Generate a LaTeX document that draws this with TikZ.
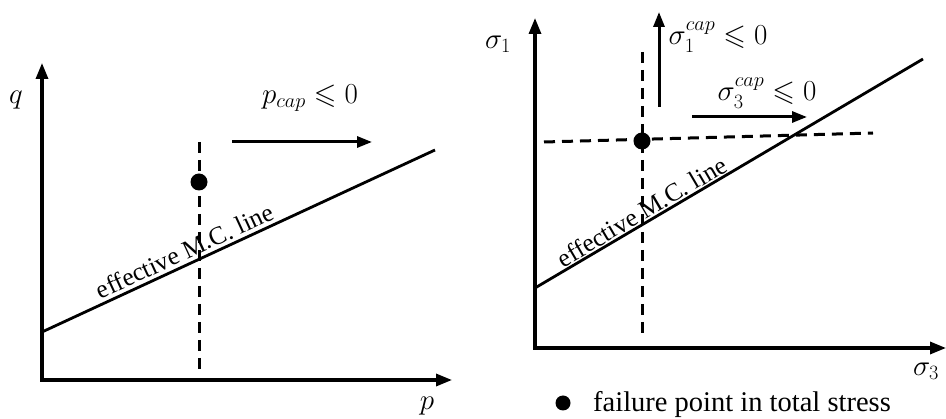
\RequirePackage{fix-cm}
\documentclass[tikz,border=0pt]{standalone}
\usepackage{amsmath}
\usepackage{amssymb}
\usepackage[no-math]{fontspec}
\setmainfont{Liberation Serif}
\usetikzlibrary{arrows.meta, positioning}

\begin{document}
\begin{tikzpicture}[x=1pt, y=-1pt,
    axis/.style={line width=3.2pt, {Triangle[length=16pt,width=12pt]}-{Triangle[length=16pt,width=12pt]}},
    mcline/.style={line width=2.8pt},
    guide/.style={line width=3pt, dash pattern=on 11pt off 7pt},
    push/.style={line width=3pt, -{Triangle[length=15pt,width=11pt]}},
    lbl/.style={font=\fontsize{29}{33}\selectfont},
    txt/.style={font=\fontsize{25.5}{30}\selectfont},
    fpoint/.style={circle, fill, inner sep=0pt, minimum size=17pt}]
    \useasboundingbox (0,0) rectangle (946,419);

    % Left panel: q-p plane
    \coordinate (qtop) at (42,63);
    \coordinate (o1) at (42,380);
    \coordinate (pend) at (452,380);
    \draw[axis] (qtop) -- (o1) -- (pend);
    \node[lbl] (qlab) at (16,100) {$q$};
    \node[lbl] (plab) at (427,406) {$p$};

    % Effective M.C. line (left)
    \coordinate (mcla) at (42,332);
    \coordinate (mclb) at (435,150);
    \draw[mcline] (mcla) -- (mclb) node[txt, pos=0.377, sloped, above, inner sep=3pt] (mcltext) {effective M.C. line};

    % Failure point and cap (left)
    \coordinate (dltop) at (199,142);
    \coordinate (dlbot) at (199,372);
    \draw[guide] (dltop) -- (dlbot);
    \node[fpoint] (fl) at (199,182) {};
    \coordinate (pcapa) at (232,142);
    \coordinate (pcapb) at (372,142);
    \draw[push] (pcapa) -- (pcapb);
    \node[lbl] (pcap) at (310,98) {$p_{cap}\leqslant 0$};

    % Right panel: sigma1-sigma3 plane
    \coordinate (stop) at (535,18);
    \coordinate (o2) at (535,348);
    \coordinate (send) at (946,348);
    \draw[axis] (stop) -- (o2) -- (send);
    \node[lbl] (s1lab) at (498,44) {$\sigma_1$};
    \node[lbl] (s3lab) at (926,371) {$\sigma_3$};

    % Effective M.C. line (right)
    \coordinate (mcra) at (535,288);
    \coordinate (mcrb) at (923,59);
    \draw[mcline] (mcra) -- (mcrb) node[txt, pos=0.29, sloped, above, inner sep=1pt] (mcrtext) {effective M.C. line};

    % Failure point and caps (right)
    \coordinate (drtop) at (642,52);
    \coordinate (drbot) at (642,338);
    \coordinate (hrleft) at (544,142);
    \coordinate (hrright) at (873,133);
    \draw[guide] (drtop) -- (drbot);
    \draw[guide] (hrleft) -- (hrright);
    \node[fpoint] (fr) at (642,141) {};
    \coordinate (s1capa) at (659,107);
    \coordinate (s1capb) at (659,12);
    \draw[push] (s1capa) -- (s1capb);
    \node[lbl] (s1cap) at (718,37) {$\sigma_1^{cap}\leqslant 0$};
    \coordinate (s3capa) at (692,117);
    \coordinate (s3capb) at (807,117);
    \draw[push] (s3capa) -- (s3capb);
    \node[lbl] (s3cap) at (767,93) {$\sigma_3^{cap}\leqslant 0$};

    % Legend
    \node[fpoint, minimum size=15pt] (legdot) at (563,403) {};
    \node[txt, font=\fontsize{28.5}{32}\selectfont, anchor=west, inner sep=0pt] (legtext) at (593,405) {failure point in total stress};
\end{tikzpicture}
\end{document}
